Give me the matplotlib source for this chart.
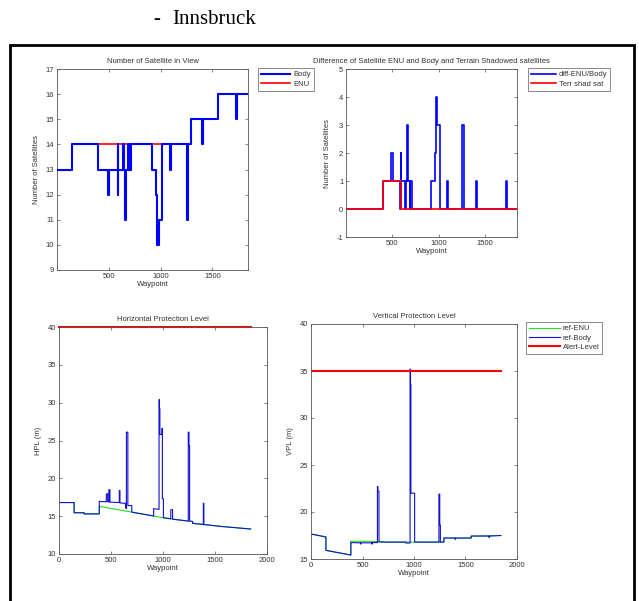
import numpy as np
import matplotlib
matplotlib.use('Agg')
import matplotlib.pyplot as plt
from matplotlib.patches import Rectangle

# number of satellites, step values starting at each waypoint
enu_wp = [1, 145, 1293, 1558, 1843]
enu_sat = [13, 14, 15, 16, 16]

body_wp = [1, 145, 400, 490, 505, 586, 590, 594, 640, 643, 655, 668, 690, 693, 712,
           915, 955, 970, 985, 1012, 1092, 1102, 1255, 1268, 1293, 1403, 1410, 1558,
           1728, 1733, 1843]
body_sat = [13, 14, 13, 12, 13, 14, 12, 13, 14, 13, 11, 13, 14, 13, 14,
            13, 12, 10, 11, 14, 13, 14, 11, 14, 15, 14, 15, 16,
            15, 16, 16]

diff_wp = body_wp
diff_sat = [0, 0, 1, 2, 1, 0, 2, 1, 0, 1, 3, 1, 0, 1, 0,
            1, 2, 4, 3, 0, 1, 0, 3, 0, 0, 1, 0, 0,
            1, 0, 0]

terr_wp = [1, 400, 597, 1843]
terr_sat = [0, 1, 0, 0]

# horizontal protection level (m)
hpl_enu_wp = [1, 145, 145, 242, 242, 387, 387, 1000, 1075, 1243, 1285, 1285, 1388, 1555, 1843]
hpl_enu_m = [16.8, 16.8, 15.45, 15.45, 15.3, 15.3, 16.3, 14.8, 14.65, 14.35, 14.3, 14.05, 13.9, 13.65, 13.3]

hpl_body_wp = [1, 145, 145, 242, 242, 387, 387,
               455, 455, 468, 468, 480, 480, 490, 490,
               580, 580, 586, 586, 640, 640, 648, 648, 662, 662, 700, 700,
               910, 910, 962, 962, 966, 966, 970, 970, 990, 990, 994, 994, 1004, 1004,
               1075, 1075, 1092, 1092,
               1243, 1243, 1250, 1250, 1256, 1256,
               1285, 1285, 1388, 1388, 1393, 1393, 1555, 1843]
hpl_body_m = [16.8, 16.8, 15.45, 15.45, 15.3, 15.3, 16.95,
              16.9, 17.9, 18.0, 16.9, 16.88, 18.5, 18.5, 16.85,
              16.8, 18.4, 18.4, 16.75, 16.7, 16.1, 16.0, 26.1, 26.1, 16.4, 16.4, 15.53,
              15.02, 16.0, 15.9, 30.4, 30.4, 29.2, 29.2, 25.8, 25.8, 26.6, 26.6, 17.3, 17.3, 14.8,
              14.65, 15.85, 15.85, 14.6,
              14.35, 26.1, 26.1, 24.3, 24.3, 14.35,
              14.3, 14.05, 13.9, 16.7, 16.7, 13.9, 13.65, 13.3]

# vertical protection level (m)
vpl_enu_wp = [1, 145, 145, 387, 387, 700, 700, 1290, 1290, 1555, 1555, 1843]
vpl_enu_m = [17.66, 17.34, 15.92, 15.42, 16.9, 16.85, 16.8, 16.8, 17.23, 17.23, 17.44, 17.5]

vpl_body_wp = [1, 145, 145, 387, 387, 480, 480, 485, 485, 590, 590, 595, 595,
               645, 645, 650, 650, 660, 660, 920, 920, 962, 962, 966, 966, 970, 970,
               1006, 1006, 1242, 1242, 1250, 1250, 1256, 1256, 1290, 1290,
               1400, 1400, 1404, 1404, 1555, 1555, 1728, 1728, 1732, 1732, 1843]
vpl_body_m = [17.66, 17.34, 15.92, 15.42, 16.75, 16.72, 16.6, 16.6, 16.72, 16.72, 16.6, 16.6, 16.75,
              16.75, 22.7, 22.7, 22.2, 22.2, 16.8, 16.8, 16.7, 16.7, 35.2, 35.2, 33.6, 33.6, 22.0,
              22.0, 16.8, 16.8, 21.9, 21.9, 18.6, 18.6, 16.8, 16.8, 17.23,
              17.23, 17.1, 17.1, 17.23, 17.23, 17.44, 17.44, 17.3, 17.3, 17.44, 17.5]

alert_wp = [1, 1843]
hpl_alert_m = [40, 40]
vpl_alert_m = [35, 35]

plt.rcParams['font.family'] = ['Liberation Sans', 'DejaVu Sans']
plt.rcParams['axes.unicode_minus'] = False
FS = 5.5
TXT = '#333333'
EDGE = '#555555'
GREEN = '#22dd22'


def style_axes(ax):
    for s in ax.spines.values():
        s.set_color(EDGE)
        s.set_linewidth(0.6)
    ax.tick_params(direction='in', length=2.5, width=0.5, colors=EDGE,
                   labelcolor=TXT, labelsize=FS, top=True, right=True, pad=2)


def add_legend(ax, fig, x, y, hl, handles=None, labels=None):
    if handles is None:
        handles, labels = ax.get_legend_handles_labels()
    leg = ax.legend(handles, labels, loc='upper left',
                    bbox_to_anchor=(x / 639, 1 - y / 601),
                    bbox_transform=fig.transFigure, fontsize=FS, frameon=True,
                    fancybox=False, edgecolor='#777777', framealpha=1,
                    handlelength=hl, handletextpad=0.4, borderpad=0.4,
                    labelspacing=0.25, borderaxespad=0)
    leg.get_frame().set_linewidth(0.6)
    for t in leg.get_texts():
        t.set_color(TXT)
    return leg


fig = plt.figure(figsize=(6.39, 6.01), dpi=100)

fig.text(153 / 639, 1 - 20 / 601, '-', family='Liberation Serif', fontsize=15,
         va='center', ha='left')
fig.text(172 / 639, 1 - 20 / 601, 'Innsbruck', family='Liberation Serif', fontsize=15,
         va='center', ha='left')
fig.patches.append(Rectangle((10 / 639, -0.05), 624 / 639, 1.05 - 45 / 601,
                             transform=fig.transFigure, fill=False,
                             edgecolor='black', linewidth=2))

# number of satellites in view
ax1 = fig.add_axes([57 / 639, 1 - 270 / 601, 191 / 639, 201 / 601])
ax1.step(enu_wp, enu_sat, where='post', color='r', lw=1.2, label='ENU', zorder=2)
ax1.step(body_wp, body_sat, where='post', color='b', lw=1.5, label='Body', zorder=3)
ax1.set_xlim(1, 1843)
ax1.set_ylim(9, 17)
ax1.set_xticks([500, 1000, 1500])
ax1.set_yticks(range(9, 18))
ax1.set_title('Number of Satellite in View', fontsize=FS, color=TXT, pad=4)
ax1.set_xlabel('Waypoint', fontsize=FS, color=TXT, labelpad=1)
ax1.set_ylabel('Number of Satellites', fontsize=FS, color=TXT, labelpad=4)
style_axes(ax1)
h, l = ax1.get_legend_handles_labels()
add_legend(ax1, fig, 258, 68, 3.8, h[::-1], l[::-1])

# difference of satellites
ax2 = fig.add_axes([346 / 639, 1 - 237 / 601, 171 / 639, 168 / 601])
ax2.step(diff_wp, diff_sat, where='post', color='b', lw=1.2, label='diff-ENU/Body')
ax2.step(terr_wp, terr_sat, where='post', color='r', lw=1.2, label='Terr shad sat')
ax2.set_xlim(1, 1843)
ax2.set_ylim(-1, 5)
ax2.set_xticks([500, 1000, 1500])
ax2.set_yticks(range(-1, 6))
ax2.set_title('Difference of Satellite ENU and Body and Terrain Shadowed satellites',
              fontsize=FS, color=TXT, pad=4)
ax2.set_xlabel('Waypoint', fontsize=FS, color=TXT, labelpad=1)
ax2.set_ylabel('Number of Satellites', fontsize=FS, color=TXT, labelpad=4)
style_axes(ax2)
add_legend(ax2, fig, 528, 68, 3.2)

# horizontal protection level
ax3 = fig.add_axes([59 / 639, 1 - 554 / 601, 208 / 639, 227 / 601])
ax3.plot(hpl_enu_wp, hpl_enu_m, color=GREEN, lw=0.8, label='ref-ENU')
ax3.plot(hpl_body_wp, hpl_body_m, color='#1010d0', lw=0.8, label='ref-Body')
ax3.plot(alert_wp, hpl_alert_m, color='r', lw=1.5, label='Alert-Level', clip_on=False)
ax3.set_xlim(0, 2000)
ax3.set_ylim(10, 40)
ax3.set_xticks(range(0, 2001, 500))
ax3.set_yticks(range(10, 41, 5))
ax3.set_title('Horizontal Protection Level', fontsize=FS, color=TXT, pad=4)
ax3.set_xlabel('Waypoint', fontsize=FS, color=TXT, labelpad=1)
ax3.set_ylabel('HPL (m)', fontsize=FS, color=TXT, labelpad=4)
style_axes(ax3)

# vertical protection level
ax4 = fig.add_axes([311 / 639, 1 - 559 / 601, 206 / 639, 235 / 601])
ax4.plot(vpl_enu_wp, vpl_enu_m, color=GREEN, lw=0.8, label='ref-ENU')
ax4.plot(vpl_body_wp, vpl_body_m, color='#1010d0', lw=0.8, label='ref-Body')
ax4.plot(alert_wp, vpl_alert_m, color='r', lw=1.5, label='Alert-Level')
ax4.set_xlim(0, 2000)
ax4.set_ylim(15, 40)
ax4.set_xticks(range(0, 2001, 500))
ax4.set_yticks(range(15, 41, 5))
ax4.set_title('Vertical Protection Level', fontsize=FS, color=TXT, pad=4)
ax4.set_xlabel('Waypoint', fontsize=FS, color=TXT, labelpad=1)
ax4.set_ylabel('VPL (m)', fontsize=FS, color=TXT, labelpad=4)
style_axes(ax4)
add_legend(ax4, fig, 526, 322, 4.0)

fig.savefig('out.png', dpi=100)
